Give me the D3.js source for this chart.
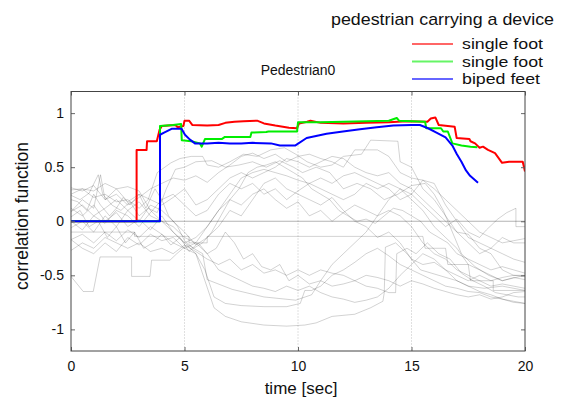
<!DOCTYPE html>
<html><head><meta charset="utf-8">
<script src="https://cdn.jsdelivr.net/npm/d3@7"></script>
<style>body{margin:0;background:#fff}text{font-family:"Liberation Sans",Arial,sans-serif}</style>
</head><body><svg id="c" width="562" height="400"></svg>
<script>
const xTicks=[0,5,10,15,20];
const yTicks=[-1,-0.5,0,0.5,1];
const yTickLabels=["-1","-0.5","0","0.5","1"];
const seriesNames=["single foot","single foot","biped feet"];
const seriesColors=["#ff0000","#00ee00","#0000ff"];
const legendTitle="pedestrian carrying a device";
const chartTitle="Pedestrian0";

const redSeries=[[0,0],[2.89,0],[2.89,0.66],[3.33,0.66],[3.35,0.74],[3.78,0.74],[3.9,0.845],[4.0,0.88],[4.6,0.89],[4.7,0.87],[4.95,0.88],[5.0,0.93],[5.2,0.93],[5.35,0.89],[6.0,0.885],[6.5,0.89],[6.8,0.91],[7.2,0.92],[7.6,0.925],[8.2,0.93],[8.5,0.905],[9.0,0.885],[9.6,0.865],[9.95,0.86],[10.05,0.905],[10.4,0.92],[10.55,0.93],[11,0.91],[12,0.905],[13,0.91],[14,0.915],[14.8,0.925],[15.7,0.92],[15.85,0.95],[16.05,0.96],[16.2,0.89],[16.9,0.875],[16.99,0.77],[17.55,0.76],[17.6,0.74],[17.8,0.72],[18.0,0.68],[18.15,0.69],[18.37,0.66],[18.68,0.63],[18.99,0.54],[19.3,0.55],[19.9,0.55],[20,0.46]];
const greenSeries=[[0,0],[3.92,0],[3.92,0.88],[4.5,0.89],[4.85,0.9],[4.88,0.75],[5.3,0.74],[5.68,0.72],[5.76,0.69],[5.9,0.76],[6.64,0.76],[6.78,0.78],[7.9,0.78],[7.95,0.82],[8.6,0.825],[8.7,0.83],[9.96,0.83],[10.0,0.915],[11,0.915],[12,0.92],[13,0.925],[14.0,0.93],[14.35,0.955],[14.45,0.93],[15.6,0.92],[15.65,0.86],[16.3,0.86],[16.4,0.83],[16.6,0.83],[16.8,0.72],[17.2,0.70],[17.6,0.69],[17.9,0.685]];
const blueSeries=[[0,0],[3.92,0],[3.92,0.8],[4.1,0.82],[4.43,0.855],[4.87,0.855],[5.02,0.8],[5.24,0.755],[5.46,0.72],[6.0,0.72],[6.5,0.725],[7,0.72],[7.5,0.72],[8,0.725],[8.81,0.72],[9.2,0.70],[9.87,0.70],[10.38,0.77],[11.26,0.81],[11.98,0.83],[12.73,0.85],[13.47,0.87],[14.2,0.885],[15.0,0.89],[15.37,0.89],[15.73,0.86],[16.1,0.82],[16.5,0.775],[16.8,0.7],[17.0,0.62],[17.2,0.55],[17.4,0.47],[17.58,0.42],[17.93,0.355]];

const gray0=[[0,0],[20,0]];
const gray1=[[0,-0.51],[0.54,-0.65],[0.98,-0.65],[1.28,-0.33],[2.67,-0.33],[2.67,-0.51],[3.48,-0.51],[3.55,-0.36],[4.36,-0.36],[4.66,-0.3],[5.1,-0.22],[5.5,-0.3],[5.9,-0.55],[6.3,-0.8],[6.8,-0.88],[7.5,-0.93],[8.5,-0.96],[9.5,-0.97],[10.3,-0.96],[10.8,-0.94],[11.5,-0.88],[12.5,-0.86],[13.2,-0.8],[13.74,-0.74],[13.8,-0.66],[13.85,-0.24],[14.3,-0.2],[14.8,-0.3],[15.4,-0.45],[16.2,-0.5],[17,-0.55],[17.5,-0.6],[18.2,-0.62],[19,-0.6],[20,-0.64]];
const gray2=[[0,0.29],[0.5,0.3],[1,0.22],[1.5,0.25],[2,0.18],[2.5,0.2],[3,0.12],[3.4,0.2],[3.8,0.45],[4.4,0.54],[4.8,0.58],[5.3,0.6],[5.8,0.6],[6.0,0.52],[6.5,0.5],[7,0.55],[7.6,0.62],[8.2,0.6],[8.8,0.66],[9.4,0.68],[9.9,0.62],[10.4,0.55],[11,0.5],[11.5,0.52],[12,0.6],[12.8,0.62],[13.2,0.75],[14.4,0.74],[14.5,0.55],[15,0.5],[15.5,0.3],[16,0.2],[16.5,0.05],[17,-0.1],[17.5,-0.12],[18,-0.25],[18.5,-0.3],[19,-0.45],[19.5,-0.5],[20,-0.5]];
const gray3=[[0,0.24],[0.4,0.2],[0.8,0.26],[1.2,0.43],[1.4,0.25],[1.8,0.15],[2.2,0.1],[2.6,0.18],[3.0,0.05],[3.4,0.12],[3.8,0.08],[4.2,0.3],[4.6,0.48],[5.0,0.5],[5.5,0.55],[6.2,0.56],[6.8,0.5],[7.4,0.52],[8.0,0.55],[8.6,0.5],[9.2,0.56],[9.8,0.5],[10.2,0.45],[10.8,0.5],[11.4,0.45],[12.0,0.3],[12.6,0.35],[13.2,0.3],[13.8,0.2],[14.4,0.25],[15.0,0.33],[15.6,0.35],[16.0,0.25],[16.4,0.1],[16.8,-0.1],[17.2,-0.3],[17.8,-0.42],[18.4,-0.5],[19.0,-0.55],[19.6,-0.52],[20,-0.5]];
const gray4=[[0,0.12],[0.5,0.05],[1.0,0.15],[1.5,0.0],[2.0,0.08],[2.5,-0.05],[3.0,0.02],[3.5,-0.08],[4.0,0.05],[4.5,-0.1],[5.0,-0.2],[5.5,-0.15],[6.0,-0.05],[6.5,0.1],[7.0,0.2],[7.5,0.15],[8.0,0.25],[8.5,0.3],[9.0,0.2],[9.5,0.12],[10,0.18],[10.5,0.05],[11,0.1],[11.5,0.0],[12,0.08],[12.5,0.15],[13,0.1],[13.5,0.05],[14,0.2],[14.5,0.3],[15,0.25],[15.5,0.15],[16,0.05],[16.5,-0.05],[17,0.02],[17.5,-0.1],[18,-0.15],[18.3,-0.08],[18.8,0.02],[19.2,0.08],[19.6,0.12],[19.6,-0.05],[20,-0.05]];
const gray5=[[0,-0.17],[0.5,-0.12],[1.0,-0.2],[1.5,-0.1],[2.0,-0.18],[2.5,-0.08],[3.0,-0.15],[3.5,-0.05],[4.0,-0.12],[4.5,-0.2],[5.0,-0.25],[5.5,-0.3],[5.9,-0.45],[6.3,-0.7],[6.8,-0.76],[7.5,-0.78],[8.5,-0.79],[9.5,-0.79],[10.1,-0.76],[10.3,-0.64],[10.6,-0.64],[11,-0.6],[11.5,-0.5],[12,-0.45],[12.5,-0.38],[13,-0.3],[13.5,-0.25],[14,-0.32],[14.5,-0.4],[15,-0.45],[15.5,-0.5],[16,-0.55],[16.5,-0.6],[17,-0.62],[17.5,-0.65],[18,-0.66],[18.5,-0.7],[19,-0.72],[19.5,-0.74],[20,-0.76]];
const gray6=[[0,0.09],[0.5,0.15],[1.0,0.05],[1.5,0.12],[2.0,0.2],[2.5,0.1],[3.0,0.18],[3.5,0.05],[4.0,0.0],[4.5,-0.1],[5,-0.2],[5.8,-0.3],[6,-0.54],[7.1,-0.63],[8.5,-0.7],[9.9,-0.73],[10.6,-0.68],[11,-0.55],[11.5,-0.4],[12,-0.3],[12.5,-0.2],[13,-0.1],[13.5,0.05],[14,0.1],[14.5,0.05],[15,-0.05],[15.5,-0.2],[16,-0.3],[16.5,-0.35],[17,-0.45],[17.5,-0.5],[18,-0.55],[18.5,-0.6],[19,-0.58],[19.5,-0.6],[20,-0.62]];
const gray7=[[0,0.31],[0.5,0.28],[1.0,0.33],[1.5,0.2],[2.0,0.25],[2.5,0.15],[3.0,0.22],[3.5,0.3],[4.0,0.35],[4.5,0.4],[5.0,0.38],[5.5,0.42],[6.0,0.36],[6.5,0.45],[7.0,0.52],[7.5,0.6],[8.0,0.63],[8.5,0.58],[9.0,0.62],[9.5,0.55],[10,0.6],[10.5,0.62],[11,0.58],[11.5,0.55],[12,0.5],[12.5,0.66],[13.5,0.66],[14,0.6],[14.5,0.45],[15,0.4],[15.5,0.38],[16,0.3],[16.5,0.2],[17,0.1],[17.5,0.0],[18,-0.1],[18.5,-0.15],[19,-0.2],[19.5,-0.18],[20,-0.16]];
const gray8=[[0,-0.06],[0.5,0.0],[1.0,-0.1],[1.5,0.05],[2.0,-0.05],[2.5,0.1],[3.0,0.0],[3.5,0.15],[4.0,0.1],[4.5,0.0],[5.0,-0.1],[5.5,-0.22],[6.0,-0.15],[6.5,-0.05],[7.0,0.1],[7.5,0.05],[8,0.2],[8.5,0.35],[9,0.4],[9.5,0.3],[10,0.25],[10.5,0.2],[11,0.15],[11.5,0.22],[12,0.1],[12.5,0.0],[13,-0.05],[13.5,-0.15],[14,-0.1],[14.5,-0.2],[15,-0.35],[15.5,-0.4],[16,-0.38],[16.5,-0.45],[17,-0.5],[17.5,-0.55],[18,-0.5],[18.5,-0.55],[19,-0.52],[19.5,-0.5],[20,-0.51]];
const gray9=[[0,0.2],[0.3,0.18],[0.7,0.1],[1.0,0.25],[1.3,0.15],[1.7,0.05],[2.0,0.12],[2.3,0.22],[2.6,0.15],[3.0,0.25],[3.3,0.12],[3.7,0.3],[4.0,0.2],[4.3,0.05],[4.7,-0.05],[5.0,-0.18],[5.4,-0.25],[5.8,-0.2],[6.2,-0.1],[6.6,0.05],[7.0,0.2],[7.4,0.3],[7.8,0.45],[8.2,0.5],[8.6,0.52],[9.0,0.55],[9.4,0.5],[9.8,0.45],[10.2,0.4],[10.6,0.3],[11,0.25],[11.4,0.2],[11.8,0.1],[12.2,0.05],[12.6,0.0],[13,0.02],[13.4,-0.02],[13.8,0.05],[14.2,0.12],[14.6,0.1],[15,0.05],[15.4,0.0],[15.8,-0.1],[16.2,-0.15],[16.6,-0.2],[17,-0.3],[17.5,-0.35],[18,-0.4],[18.5,-0.45],[19,-0.42],[19.5,-0.45],[20,-0.48]];
const gray10=[[0,0.04],[0.4,0.1],[0.8,-0.05],[1.2,0.0],[1.6,-0.15],[2.0,-0.05],[2.4,-0.2],[2.8,-0.1],[3.2,-0.25],[3.6,-0.2],[4.0,-0.12],[4.4,-0.22],[4.8,-0.15],[5.2,-0.28],[5.6,-0.2],[6.0,-0.3],[6.4,-0.25],[6.8,-0.1],[7.2,-0.2],[7.6,-0.35],[8,-0.3],[8.4,-0.42],[8.8,-0.45],[9.2,-0.4],[9.6,-0.55],[10,-0.5],[10.5,-0.58],[11,-0.55],[11.5,-0.6],[12,-0.58],[12.5,-0.55],[13,-0.5],[13.5,-0.52],[14,-0.55],[14.5,-0.6],[15,-0.55],[15.5,-0.58],[16,-0.62],[16.5,-0.65],[17,-0.68],[17.5,-0.7],[18,-0.68],[18.5,-0.72],[19,-0.7],[19.5,-0.66],[20,-0.65]];
const gray11=[[0,0.25],[0.5,0.3],[1,0.28],[1.5,0.35],[2,0.3],[2.5,0.32],[3,0.28],[3.5,0.1],[4,0.0],[4.5,-0.05],[5,-0.15],[5.5,-0.2],[6,-0.05],[6.5,0.1],[7,0.25],[7.5,0.4],[8,0.45],[8.5,0.48],[9,0.45],[9.5,0.42],[10,0.38],[10.5,0.35],[11,0.3],[11.5,0.25],[12,0.2],[12.5,0.25],[13,0.35],[13.5,0.3],[14,0.35],[14.5,0.3],[15,0.2],[15.5,0.1],[16,-0.05],[16.5,-0.15],[17,-0.25],[17.5,-0.4],[18,-0.45],[18.5,-0.5],[19,-0.55],[19.5,-0.52],[20,-0.54]];
const gray12=[[0,-0.1],[2.8,-0.1],[2.8,-0.14],[5.2,-0.14],[5.2,-0.2],[6,-0.2],[6,-0.14],[15.5,-0.14],[15.6,-0.25],[16.5,-0.25],[16.6,-0.4],[17.5,-0.4],[17.6,-0.55],[18.6,-0.55],[18.6,-0.64],[20,-0.64]];
const gray13=[[0,-0.27],[0.5,-0.2],[1,-0.25],[1.5,-0.15],[2,-0.2],[2.5,-0.25],[3,-0.2],[3.5,-0.28],[4,-0.25],[4.5,-0.3],[5,-0.22],[5.5,-0.28],[6,-0.35],[6.5,-0.4],[7,-0.35],[7.5,-0.45],[8,-0.4],[8.5,-0.48],[9,-0.45],[9.5,-0.5],[10,-0.45],[10.5,-0.5],[11,-0.45],[11.5,-0.48],[12,-0.5],[12.5,-0.55],[13,-0.6],[13.5,-0.62],[14,-0.66],[14.3,-0.66],[14.35,-0.3],[14.8,-0.25],[15.2,-0.3],[15.7,-0.2],[16.2,-0.3],[16.7,-0.35],[17.2,-0.48],[17.7,-0.55],[18.2,-0.6],[18.7,-0.66],[19.2,-0.68],[19.7,-0.7],[20,-0.7]];
const gray14=[[0,0.0],[0.5,-0.08],[1,0.05],[1.5,-0.02],[2,0.1],[2.5,0.05],[3,-0.05],[3.5,0.08],[4,0.2],[4.5,0.25],[5,0.15],[5.5,0.05],[6,0.1],[6.5,0.25],[7,0.35],[7.5,0.3],[8,0.35],[8.5,0.25],[9,0.3],[9.5,0.2],[10,0.28],[10.5,0.35],[11,0.4],[11.5,0.35],[12,0.42],[12.5,0.45],[13,0.4],[13.5,0.35],[14,0.3],[14.5,0.2],[15,0.25],[15.5,0.38],[16,0.35],[16.5,0.15],[17,0.0],[17.5,-0.15],[18,-0.2],[18.5,-0.25],[19,-0.3],[19.5,-0.35],[20,-0.38]];
const gray15=[[0,0.09],[0.5,0.2],[1,0.12],[1.3,0.43],[1.5,0.2],[2,0.3],[2.5,0.18],[3,0.25],[3.5,0.2],[4,0.15],[4.5,0.22],[5,0.3],[5.5,0.15],[6,0.2],[6.5,0.3],[7,0.4],[7.5,0.45],[8,0.4],[8.5,0.45],[9,0.5],[9.5,0.58],[10,0.55],[10.5,0.5],[11,0.55],[11.5,0.6],[12,0.58],[12.5,0.5],[13,0.45],[13.5,0.42],[14,0.45],[14.5,0.35],[15,0.3],[15.5,0.2],[16,0.1],[16.5,0.0],[17,-0.1],[17.5,-0.2],[18,-0.3],[18.5,-0.25],[19,-0.15],[19.5,-0.2],[20,-0.2]];
const gray16=[[0,-0.17],[0.5,-0.25],[1,-0.3],[1.5,-0.2],[2,-0.28],[2.5,-0.15],[3,-0.22],[3.5,-0.12],[4,-0.18],[4.5,-0.15],[5,-0.25],[5.5,-0.2],[6,-0.3],[6.5,-0.45],[7,-0.5],[7.5,-0.55],[8,-0.6],[8.5,-0.62],[9,-0.65],[9.5,-0.6],[10,-0.64],[10.5,-0.6],[11,-0.66],[11.5,-0.7],[12,-0.72],[12.5,-0.75],[13,-0.73],[13.5,-0.7],[14,-0.62],[14.5,-0.5],[15,-0.4],[15.5,-0.3],[16,-0.35],[16.5,-0.45],[17,-0.55],[17.5,-0.6],[18,-0.65],[18.5,-0.68],[19,-0.72],[19.5,-0.75],[20,-0.76]];
const graySeries=[gray0,gray1,gray2,gray3,gray4,gray5,gray6,gray7,gray8,gray9,gray10,gray11,gray12,gray13,gray14,gray15,gray16];

const L=71,R=525,T=91.5,B=351;
const svg=d3.select("#c");
const x=d3.scaleLinear().domain([0,20]).range([L,R]);
const y=d3.scaleLinear().domain([-1.2,1.2]).range([B,T]);

// grid
svg.append("g").selectAll("line").data(xTicks.slice(1,-1)).join("line")
  .attr("x1",d=>x(d)).attr("x2",d=>x(d)).attr("y1",T).attr("y2",B)
  .attr("stroke","#b0b0b0").attr("stroke-width",0.8).attr("stroke-dasharray","1,2");

const line=d3.line().x(d=>x(d[0])).y(d=>y(d[1]));
svg.append("defs").append("clipPath").attr("id","pc").append("rect")
  .attr("x",L).attr("y",T).attr("width",R-L).attr("height",B-T);
const plot=svg.append("g").attr("clip-path","url(#pc)");
plot.selectAll("path.g").data(graySeries).join("path").attr("class","g")
  .attr("d",line).attr("fill","none").attr("stroke","#000")
  .attr("stroke-opacity",(d,i)=>i===0?0.3:0.2).attr("stroke-width",(d,i)=>i===0?1.2:0.9);
[redSeries,greenSeries,blueSeries].forEach((s,i)=>{
  plot.append("path").attr("d",line(s)).attr("fill","none")
    .attr("stroke",seriesColors[i]).attr("stroke-width",2).attr("stroke-linejoin","round");
});

// axes
const fmt=d=>yTickLabels[yTicks.indexOf(d)];
const ax=svg.append("g").attr("transform",`translate(0,${B})`)
  .call(d3.axisBottom(x).tickValues(xTicks).tickSizeInner(-4).tickSizeOuter(0).tickPadding(10).tickFormat(d3.format("d")));
const ay=svg.append("g").attr("transform",`translate(${L},0)`)
  .call(d3.axisLeft(y).tickValues(yTicks).tickSizeInner(-4).tickSizeOuter(0).tickPadding(7).tickFormat(fmt));
const at=svg.append("g").attr("transform",`translate(0,${T})`)
  .call(d3.axisTop(x).tickValues(xTicks).tickSizeInner(-4).tickSizeOuter(0).tickFormat(""));
const ar=svg.append("g").attr("transform",`translate(${R},0)`)
  .call(d3.axisRight(y).tickValues(yTicks).tickSizeInner(-4).tickSizeOuter(0).tickFormat(""));
[ax,ay,at,ar].forEach(g=>{g.select(".domain").remove();
  g.selectAll("line").attr("stroke","#666");
  g.selectAll("text").attr("font-size",14).attr("fill","#111").attr("font-family","Liberation Sans, Arial, sans-serif");});

svg.append("rect").attr("x",L).attr("y",T).attr("width",R-L).attr("height",B-T)
  .attr("fill","none").attr("stroke","#444").attr("stroke-width",1);

// titles
svg.append("text").attr("x",298).attr("y",75).attr("text-anchor","middle")
  .attr("font-size",14).attr("fill","#111").text(chartTitle);
svg.append("text").attr("x",301).attr("y",394).attr("text-anchor","middle")
  .attr("font-size",17).attr("fill","#111").text("time [sec]");
svg.append("text").attr("transform","translate(28,216) rotate(-90)").attr("text-anchor","middle")
  .attr("font-size",17.5).attr("fill","#111").text("correlation function");

// legend
svg.append("text").attr("x",331).attr("y",25).attr("font-size",17).attr("fill","#111")
  .attr("textLength",223).attr("lengthAdjust","spacingAndGlyphs").text(legendTitle);
const lg=svg.append("g");
seriesNames.forEach((n,i)=>{
  const yy=44+i*17.5;
  lg.append("line").attr("x1",412).attr("x2",453).attr("y1",yy).attr("y2",yy)
    .attr("stroke",seriesColors[i]).attr("stroke-width",2).attr("stroke-opacity",0.6);
  lg.append("text").attr("x",462).attr("y",yy+5).attr("font-size",15).attr("fill","#111")
    .attr("textLength",n==="biped feet"?78:81).attr("lengthAdjust","spacingAndGlyphs").text(n);
});
</script></body></html>
